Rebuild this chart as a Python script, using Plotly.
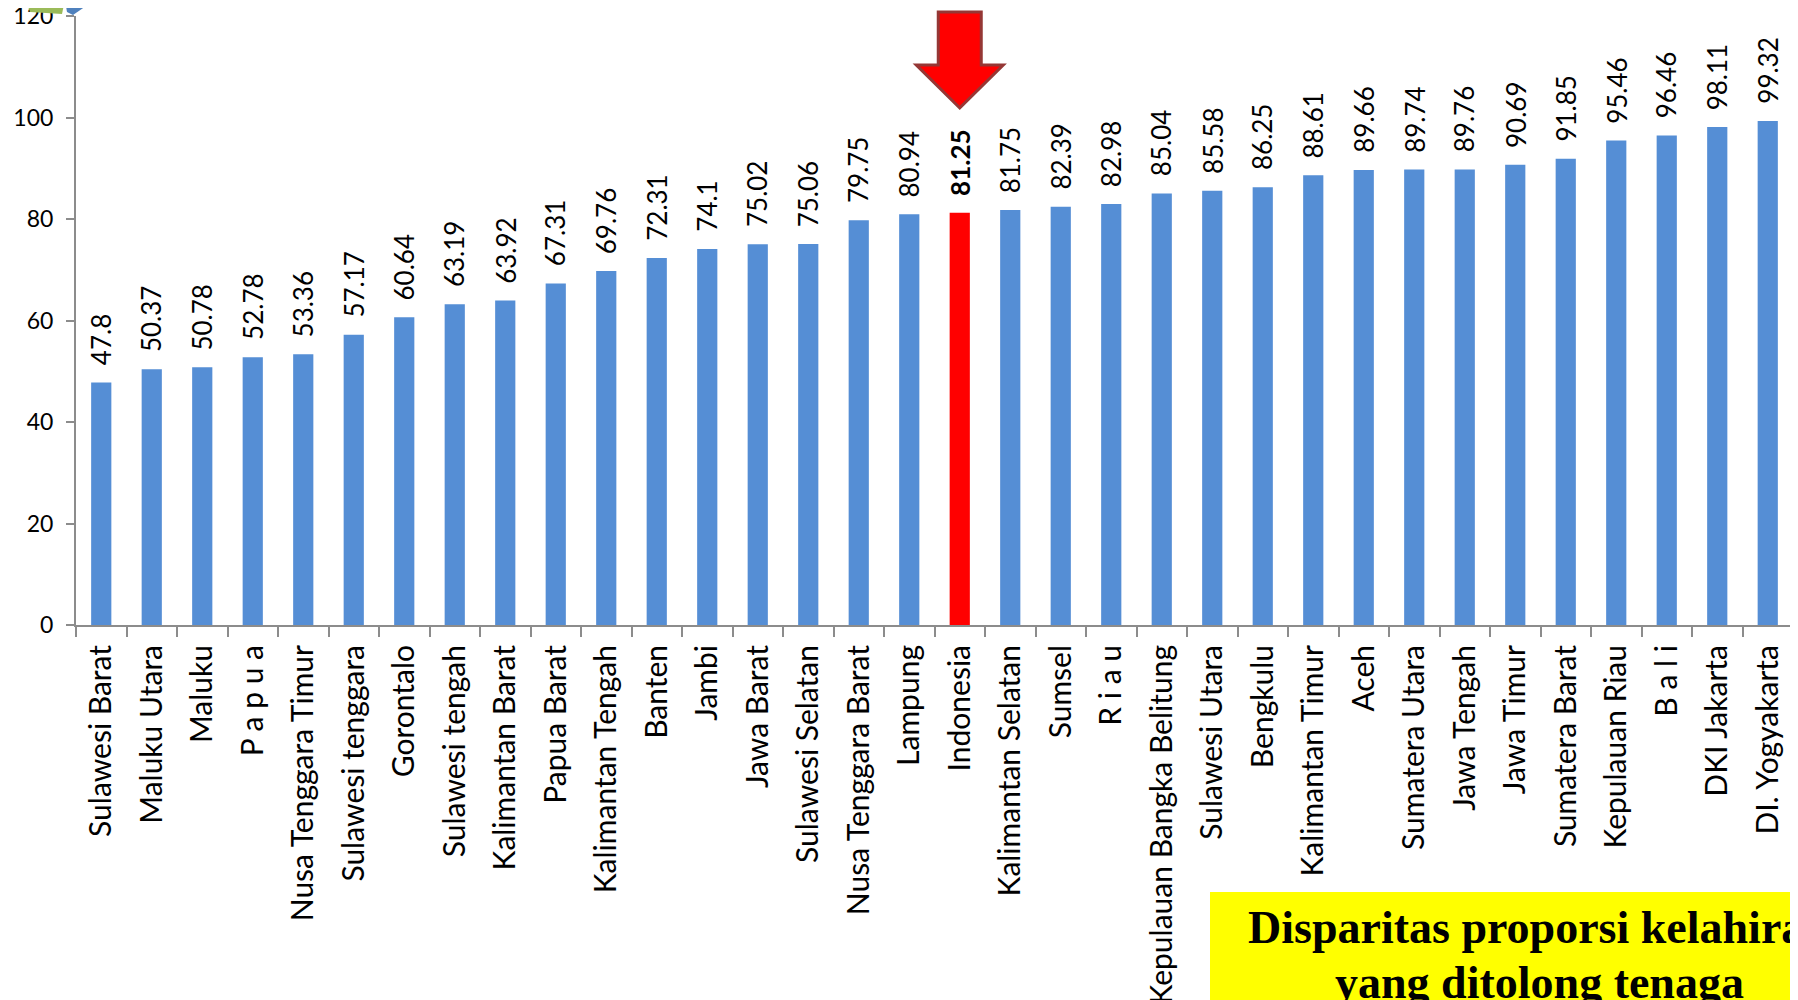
import plotly.graph_objects as go

categories = ["Sulawesi Barat", "Maluku Utara", "Maluku", "P a p u a", "Nusa Tenggara Timur",
              "Sulawesi tenggara", "Gorontalo", "Sulawesi tengah", "Kalimantan Barat", "Papua Barat",
              "Kalimantan Tengah", "Banten", "Jambi", "Jawa Barat", "Sulawesi Selatan",
              "Nusa Tenggara Barat", "Lampung", "Indonesia", "Kalimantan Selatan", "Sumsel",
              "R i a u", "Kepulauan Bangka Belitung", "Sulawesi Utara", "Bengkulu", "Kalimantan Timur",
              "Aceh", "Sumatera Utara", "Jawa Tengah", "Jawa Timur", "Sumatera Barat",
              "Kepulauan Riau", "B a l i", "DKI Jakarta", "DI. Yogyakarta"]
values = [47.8, 50.37, 50.78, 52.78, 53.36, 57.17, 60.64, 63.19, 63.92, 67.31,
          69.76, 72.31, 74.1, 75.02, 75.06, 79.75, 80.94, 81.25, 81.75, 82.39,
          82.98, 85.04, 85.58, 86.25, 88.61, 89.66, 89.74, 89.76, 90.69, 91.85,
          95.46, 96.46, 98.11, 99.32]
value_labels = ["47.8", "50.37", "50.78", "52.78", "53.36", "57.17", "60.64", "63.19", "63.92", "67.31",
                "69.76", "72.31", "74.1", "75.02", "75.06", "79.75", "80.94", "81.25", "81.75", "82.39",
                "82.98", "85.04", "85.58", "86.25", "88.61", "89.66", "89.74", "89.76", "90.69", "91.85",
                "95.46", "96.46", "98.11", "99.32"]
highlight = "Indonesia"
y_ticks = [0, 20, 40, 60, 80, 100, 120]
title_lines = ["Disparitas proporsi kelahiran", "yang ditolong tenaga"]

# page offset (body margin) of 8px
OFF = 8
W, H = 1798 - OFF, 1000 - OFF
# plot area in screen pixels: x 76..1793, y 16..625
SX0, SX1, SY0, SY1 = 76, 1793, 16, 625
ML, MT = SX0 - OFF, SY0 - OFF
MR = W - (SX1 - OFF)
MB = H - (SY1 - OFF)
PW, PH = SX1 - SX0, SY1 - SY0

def px(X):
    return (X - SX0) / PW

def py(Y):
    return (SY1 - Y) / PH

BLUE = "#558ED5"
RED = "#FF0000"
FONT = "Lato"

colors = [RED if c == highlight else BLUE for c in categories]

fig = go.Figure(go.Bar(x=categories, y=values, marker=dict(color=colors, line=dict(width=0)),
                       width=0.4, hoverinfo="x+y"))

annotations = []
for c, v, t in zip(categories, values, value_labels):
    txt = f"<b>{t}</b>" if c == highlight else t
    annotations.append(dict(x=c, y=v, xref="x", yref="y", text=txt, textangle=-90,
                            showarrow=False, yanchor="bottom", xanchor="center", yshift=15,
                            font=dict(family=FONT, size=26, color="#000000")))

# yellow title box text (clipped by the page edge as in the original)
for line, ycen in zip(title_lines, [927, 982]):
    annotations.append(dict(xref="paper", yref="paper", x=px(1539), y=py(ycen), xanchor="center",
                            yanchor="middle", showarrow=False, align="center",
                            text=f"<b>{line}</b>",
                            font=dict(family="Liberation Serif", size=46, color="#000000")))

n = len(categories)
hi = categories.index(highlight)
cx = (hi + 0.5) / n
hs = 21.5 / PW
hh = 43.5 / PW
yt, yh, ytip = py(12), py(65), py(108)
arrow_path = (f"M {cx-hs} {yt} L {cx+hs} {yt} L {cx+hs} {yh} L {cx+hh} {yh} L {cx} {ytip} "
              f"L {cx-hh} {yh} L {cx-hs} {yh} Z")

shapes = [
    dict(type="rect", xref="paper", yref="paper", x0=px(1210), x1=px(1900), y0=py(892), y1=py(1100),
         fillcolor="#FFFF00", line=dict(width=0), layer="below"),
    dict(type="path", xref="paper", yref="paper", path=arrow_path, fillcolor=RED,
         line=dict(color="#953735", width=3), layer="above"),
    # decorative corner logo fragments
    dict(type="path", xref="paper", yref="paper",
         path=f"M {px(0)} {py(-5)} L {px(16)} {py(-5)} L {px(8)} {py(7)} L {px(0)} {py(9)} Z",
         fillcolor="#F79646", line=dict(width=0)),
    dict(type="path", xref="paper", yref="paper",
         path=f"M {px(24)} {py(-5)} L {px(66)} {py(-5)} L {px(62)} {py(14)} L {px(30)} {py(12)} Z",
         fillcolor="#9BBB59", line=dict(width=0)),
    dict(type="path", xref="paper", yref="paper",
         path=f"M {px(64)} {py(-5)} L {px(102)} {py(-5)} L {px(73)} {py(15)} L {px(67)} {py(12)} Z",
         fillcolor="#4F81BD", line=dict(width=0)),
]

fig.update_layout(
    width=W, height=H,
    margin=dict(l=ML, r=MR, t=MT, b=MB, pad=0),
    paper_bgcolor="#FFFFFF", plot_bgcolor="#FFFFFF",
    showlegend=False,
    bargap=0.6,
    font=dict(family=FONT, color="#000000"),
    xaxis=dict(type="category", range=[-0.5, n - 0.5], tickangle=-90, tickson="boundaries",
               ticks="outside", ticklen=10, tickwidth=2, tickcolor="#8C8C8C",
               showline=True, linecolor="#8C8C8C", linewidth=2, showgrid=False,
               ticklabelstandoff=6, ticklabeloverflow="allow",
               tickfont=dict(family=FONT, size=30, color="#000000"), automargin=False),
    yaxis=dict(range=[0, 120], tickvals=y_ticks, ticks="outside", ticklen=8, tickwidth=2,
               tickcolor="#8C8C8C", showline=True, linecolor="#8C8C8C", linewidth=2,
               showgrid=False, zeroline=False, ticklabelstandoff=8, ticklabeloverflow="allow",
               tickfont=dict(family=FONT, size=23, color="#000000"), automargin=False),
    annotations=annotations,
    shapes=shapes,
)

fig.write_html("out.html")
